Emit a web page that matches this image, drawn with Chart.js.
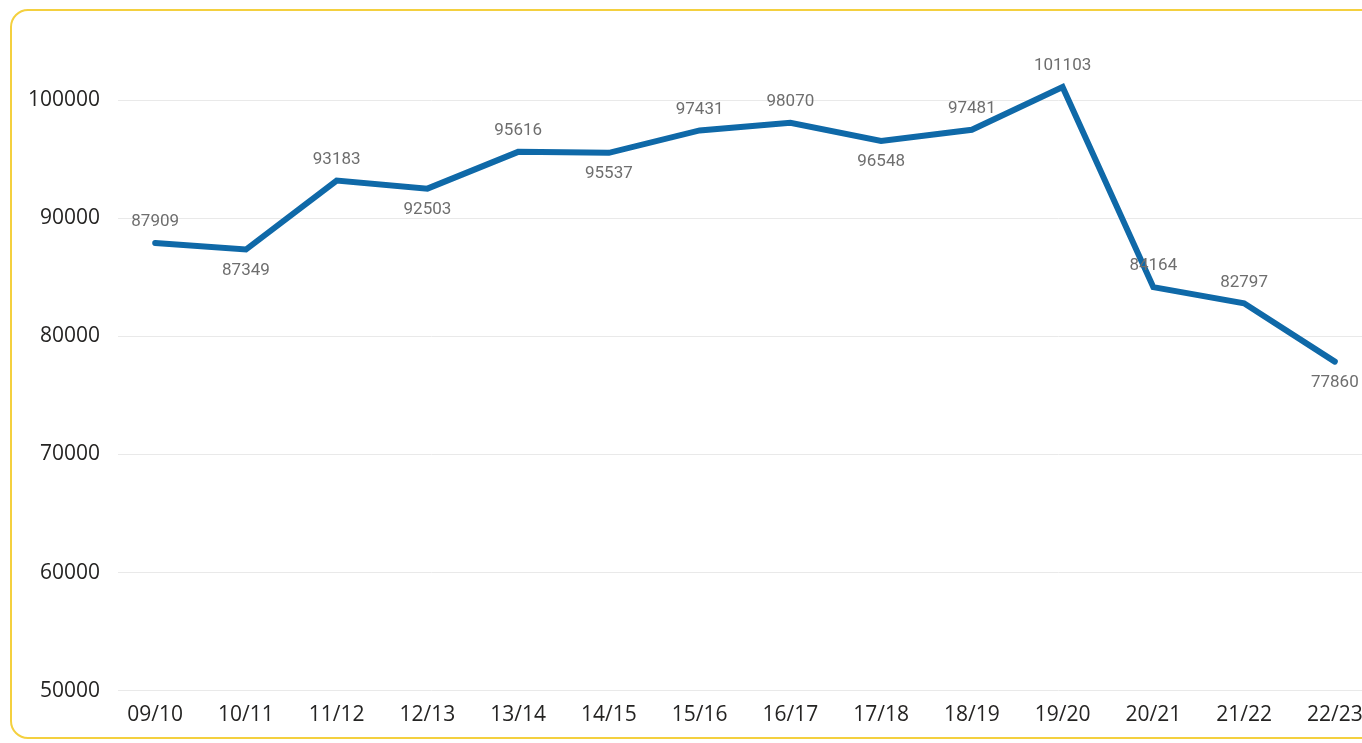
<!DOCTYPE html>
<html>
<head>
<meta charset="utf-8">
<script src="https://cdn.jsdelivr.net/npm/chart.js@4/dist/chart.umd.min.js"></script>
<style>
    html, body { margin: 0; padding: 0; background: #fff; overflow: hidden; }
    #frame {
        position: absolute; left: 10px; top: 9px;
        width: 1440px; height: 726px;
        border: 2px solid #F4D03F; border-radius: 18px;
    }
    #chart { position: absolute; left: 0; top: 0; }
</style>
</head>
<body>
<div id="frame"></div>
<canvas id="chart" width="1440" height="743"></canvas>
<script>
// Academic years and values
const periods = ["09/10", "10/11", "11/12", "12/13", "13/14", "14/15", "15/16",
    "16/17", "17/18", "18/19", "19/20", "20/21", "21/22", "22/23"];
const values = [87909, 87349, 93183, 92503, 95616, 95537, 97431,
    98070, 96548, 97481, 101103, 84164, 82797, 77860];
const yTicks = [50000, 60000, 70000, 80000, 90000, 100000];
// where each data label sits, relative to its point
const labelSide = ["up", "down", "up", "down", "up", "down", "up",
    "up", "down", "up", "up", "up", "up", "down"];

// simple data label plugin (no datalabels plugin available offline)
const valueLabels = {
    id: "valueLabels",
    afterDatasetsDraw(chart) {
        const ctx = chart.ctx;
        const meta = chart.getDatasetMeta(0);
        ctx.save();
        ctx.font = "17px Roboto, sans-serif";
        ctx.fillStyle = "#6E6E6E";
        ctx.textAlign = "center";
        ctx.textBaseline = "middle";
        meta.data.forEach((pt, i) => {
            const dy = labelSide[i] === "up" ? -21 : 21;
            ctx.fillText(String(values[i]), pt.x, pt.y + dy);
        });
        ctx.restore();
    }
};

const ctx = document.getElementById("chart").getContext("2d");
new Chart(ctx, {
    type: "line",
    data: {
        datasets: [{
            data: values.map((v, i) => ({ x: i, y: v })),
            borderColor: "#0F69A8",
            borderWidth: 6,
            borderCapStyle: "round",
            borderJoinStyle: "miter",
            pointRadius: 0,
            tension: 0,
            fill: false,
        }],
    },
    options: {
        responsive: false,
        animation: false,
        layout: { padding: { left: 10, top: 41, right: 68, bottom: 3 } },
        plugins: { legend: { display: false }, tooltip: { enabled: false } },
        scales: {
            x: {
                type: "linear",
                min: -0.41,
                max: 13.41,
                afterBuildTicks: (axis) => {
                    axis.ticks = periods.map((p, i) => ({ value: i }));
                },
                ticks: {
                    callback: (v) => periods[v],
                    font: { family: "'Open Sans', sans-serif", size: 21 },
                    color: "#252423",
                    padding: 12,
                    maxRotation: 0,
                    autoSkip: false,
                },
                grid: { display: false, drawTicks: false },
                border: { display: false },
            },
            y: {
                min: 50000,
                max: 105000,
                afterBuildTicks: (axis) => {
                    axis.ticks = yTicks.map((v) => ({ value: v }));
                },
                afterFit: (axis) => { axis.width = 108; },
                ticks: {
                    callback: (v) => String(v),
                    font: { family: "'Open Sans', sans-serif", size: 21 },
                    color: "#252423",
                    padding: 18,
                    autoSkip: false,
                },
                grid: { color: "#E9E9E9", lineWidth: 1, drawTicks: false },
                border: { display: false },
            },
        },
    },
    plugins: [valueLabels],
});
</script>
</body>
</html>
